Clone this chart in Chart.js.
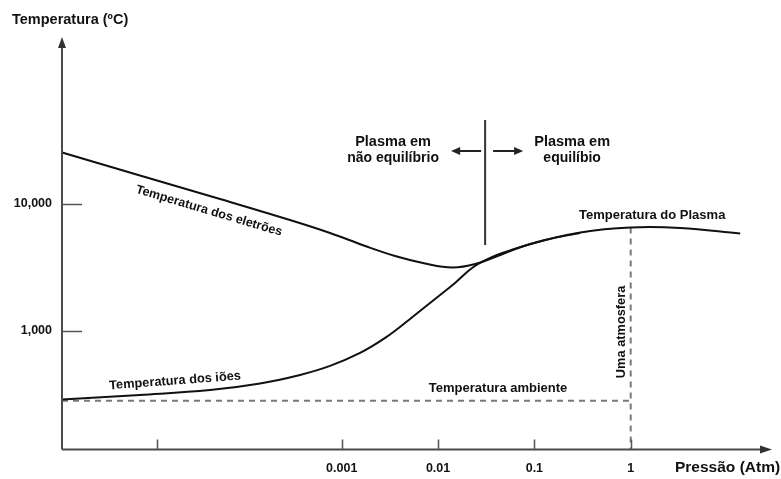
<!DOCTYPE html>
<html><head><meta charset="utf-8">
<script src="https://cdn.jsdelivr.net/npm/chart.js@4.4.0/dist/chart.umd.min.js"></script>
<style>html,body{margin:0;padding:0;background:#fff;}#wrap{width:781px;height:479px;position:relative;}</style>
</head><body><div id="wrap"><canvas id="c"></canvas></div>
<script>
// ---- data (pressure in atm, temperature in ºC) ----
const pressureElectrons = [1.25e-6, 8.04e-6, 5.45e-5, 2.9e-4, 7.56e-4, 1.75e-3, 3.58e-3, 7.33e-3, 0.01405, 0.02434, 0.04425, 0.0911, 0.301, 1, 3.26, 13.7];
const tempElectrons     = [25500, 16760, 10950, 7475, 5904, 4661, 3886, 3392, 3155, 3360, 3958, 4834, 5958, 6523, 6465, 5850];
const pressureIons = [1.25e-6, 8.04e-6, 4.29e-5, 1.42e-4, 3.69e-4, 7.56e-4, 1.55e-3, 2.82e-3, 5.12e-3, 9.31e-3, 0.01501, 0.02255, 0.0347, 0.0559, 0.129, 0.298];
const tempIons     = [286, 311, 340, 383, 447, 527, 667, 876, 1237, 1779, 2380, 3125, 3749, 4296, 5200, 5904];
const ambientTemperature = 280;
const atmospherePressure = 1;
const plasmaTempAtAtm = 6523;
const boundaryPressure = 0.0308;
const boundaryTemps = [46000, 4740];
const xTickValues = [1.22e-5, 0.001, 0.01, 0.1, 1];
const xTickLabels = ['', '0.001', '0.01', '0.1', '1'];
const yTickValues = [1000, 10000];
const yTickLabels = ['1,000', '10,000'];
const X_MIN = 1.247e-6, X_MAX = 29.3, Y_MIN = 115.3, Y_MAX = 208000;

const FONT = '"Liberation Sans", Arial, Helvetica, sans-serif';
const pts = (xs, ys) => xs.map((x, i) => ({x, y: ys[i]}));

const notes = [
  {text:'Plasma em', p:0.00341, t:30800, size:14.5},
  {text:'não equilíbrio', p:0.00341, t:23070, size:14},
  {text:'Plasma em', p:0.2466, t:30800, size:14.5},
  {text:'equilíbio', p:0.2466, t:23070, size:14},
  {text:'Temperatura do Plasma', p:1.67, t:8190, size:13},
  {text:'Temperatura dos eletrões', p:4.19e-5, t:8810, size:12.5, rot:16.5},
  {text:'Temperatura dos iões', p:1.86e-5, t:401, size:12.8, rot:-4.3},
  {text:'Temperatura ambiente', p:0.042, t:353, size:13},
  {text:'Uma atmosfera', p:0.795, t:977, size:12.8, rot:-90}
];

function arrowHead(ctx, tx, ty, dx, dy, len, half) {
  const nx = -dy, ny = dx;
  ctx.beginPath();
  ctx.moveTo(tx, ty);
  ctx.lineTo(tx - dx*len + nx*half, ty - dy*len + ny*half);
  ctx.lineTo(tx - dx*len - nx*half, ty - dy*len - ny*half);
  ctx.closePath();
  ctx.fill();
}

const decor = {
  id: 'decor',
  afterDatasetsDraw(chart) {
    const ctx = chart.ctx, xs = chart.scales.x, ys = chart.scales.y, a = chart.chartArea;
    ctx.save();
    // axes
    ctx.strokeStyle = '#4a4a4a'; ctx.fillStyle = '#333'; ctx.lineWidth = 2;
    ctx.beginPath();
    ctx.moveTo(a.left, a.bottom); ctx.lineTo(a.left, a.top + 6);
    ctx.moveTo(a.left, a.bottom); ctx.lineTo(a.right - 6, a.bottom);
    ctx.stroke();
    arrowHead(ctx, a.left, a.top, 0, -1, 11, 4);
    arrowHead(ctx, a.right, a.bottom, 1, 0, 12, 4);
    // tick marks (inward)
    ctx.lineWidth = 1.5; ctx.strokeStyle = '#555';
    ctx.beginPath();
    yTickValues.forEach(v => { const y = Math.round(ys.getPixelForValue(v)) + 0.5; ctx.moveTo(a.left, y); ctx.lineTo(a.left + 20, y); });
    xTickValues.forEach(v => { const x = Math.round(xs.getPixelForValue(v)) + 0.5; ctx.moveTo(x, a.bottom); ctx.lineTo(x, a.bottom - 10); });
    ctx.stroke();
    // arrows beside boundary line
    const bx = xs.getPixelForValue(boundaryPressure), by = ys.getPixelForValue(26200);
    ctx.strokeStyle = '#222'; ctx.fillStyle = '#222'; ctx.lineWidth = 2;
    ctx.beginPath(); ctx.moveTo(bx - 4, by); ctx.lineTo(bx - 26, by); ctx.moveTo(bx + 8, by); ctx.lineTo(bx + 30, by); ctx.stroke();
    arrowHead(ctx, bx - 34, by, -1, 0, 9, 4);
    arrowHead(ctx, bx + 38, by, 1, 0, 9, 4);
    // annotation texts
    ctx.fillStyle = '#111'; ctx.textAlign = 'center'; ctx.textBaseline = 'middle';
    notes.forEach(n => {
      const x = xs.getPixelForValue(n.p), y = ys.getPixelForValue(n.t);
      ctx.save(); ctx.translate(x, y); ctx.rotate((n.rot || 0) * Math.PI / 180);
      ctx.font = 'bold ' + n.size + 'px ' + FONT;
      ctx.fillText(n.text, 0, 0); ctx.restore();
    });
    // axis titles
    ctx.textAlign = 'left';
    ctx.font = 'bold 14.5px ' + FONT; ctx.fillText('Temperatura (ºC)', 12, 20);
    ctx.font = 'bold 15.5px ' + FONT; ctx.fillText('Pressão (Atm)', 675, 468);
    ctx.restore();
  }
};

const tickFont = {family: FONT, size: 12.5, weight: 'bold'};
const curve = {showLine: true, borderColor: '#111', borderWidth: 2, pointRadius: 0, tension: 0.4, clip: false};
new Chart(document.getElementById('c'), {
  type: 'scatter',
  data: {datasets: [
    Object.assign({data: pts(pressureElectrons, tempElectrons)}, curve),
    Object.assign({data: pts(pressureIons, tempIons)}, curve),
    {data: [{x: X_MIN, y: ambientTemperature}, {x: atmospherePressure, y: ambientTemperature}], showLine: true, borderColor: '#7a7a7a', borderWidth: 2, borderDash: [6, 5], pointRadius: 0, clip: false},
    {data: [{x: atmospherePressure, y: plasmaTempAtAtm}, {x: atmospherePressure, y: Y_MIN}], showLine: true, borderColor: '#7a7a7a', borderWidth: 2, borderDash: [6, 5], pointRadius: 0, clip: false},
    {data: [{x: boundaryPressure, y: boundaryTemps[0]}, {x: boundaryPressure, y: boundaryTemps[1]}], showLine: true, borderColor: '#333', borderWidth: 2, pointRadius: 0, clip: false}
  ]},
  options: {
    responsive: true, maintainAspectRatio: false, animation: false, events: [],
    layout: {padding: {top: 37, right: 9, left: 0, bottom: 0}},
    plugins: {legend: {display: false}, tooltip: {enabled: false}},
    scales: {
      x: {type: 'logarithmic', min: X_MIN, max: X_MAX, position: 'bottom',
          grid: {display: false, drawTicks: false}, border: {display: false},
          ticks: {autoSkip: false, maxRotation: 0, padding: 12, font: tickFont, color: '#111', callback: (v, i) => xTickLabels[i]},
          afterBuildTicks: s => { s.ticks = xTickValues.map(v => ({value: v})); },
          afterFit: s => { s.height = 29.5; }},
      y: {type: 'logarithmic', min: Y_MIN, max: Y_MAX, position: 'left',
          grid: {display: false, drawTicks: false}, border: {display: false},
          ticks: {autoSkip: false, padding: 10, font: tickFont, color: '#111', callback: (v, i) => yTickLabels[i]},
          afterBuildTicks: s => { s.ticks = yTickValues.map(v => ({value: v})); },
          afterFit: s => { s.width = 62; }}
    }
  },
  plugins: [decor]
});
</script></body></html>
